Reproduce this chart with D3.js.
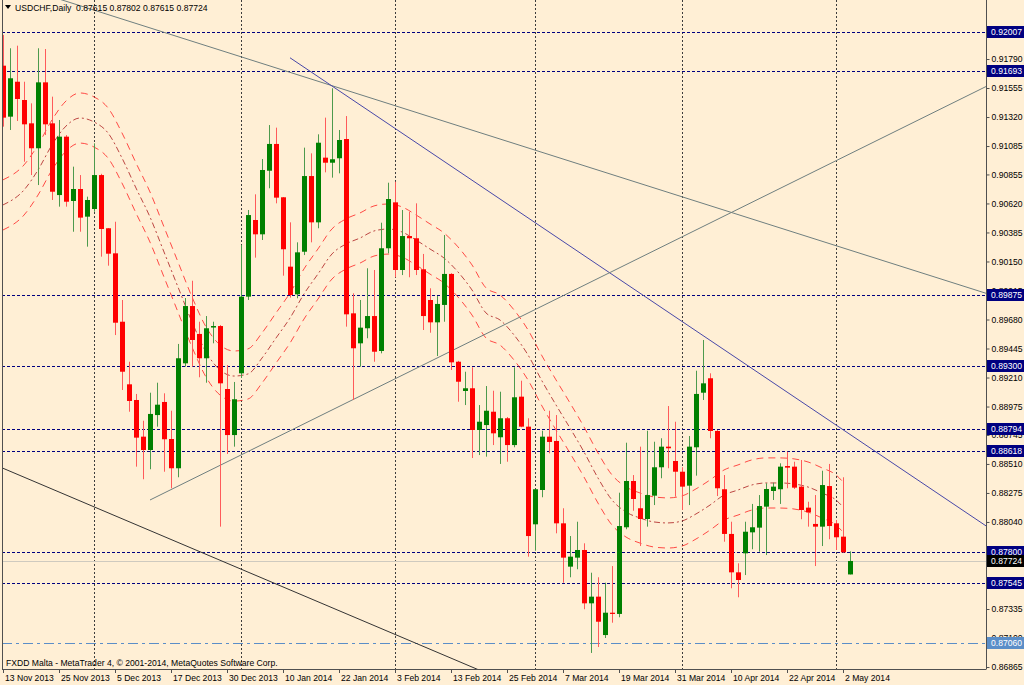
<!DOCTYPE html>
<html lang="en">
<head>
<meta charset="utf-8">
<title>USDCHF,Daily</title>
<script src="https://d3js.org/d3.v7.min.js"></script>
<style>
  body { margin: 0; background: #ffefd5; }
  svg { display: block; }
  text { font-family: "Liberation Sans", Arial, sans-serif; font-size: 8.6px; fill: #000; }
</style>
</head>
<body>
<script>
var width = 1024, height = 685;
var plot = { left: 2, right: 986, top: 0, bottom: 669 };

// daily bars, 13 Nov 2013 .. 5 May 2014
var opens = [0.91736,0.91323,0.91606,0.91458,0.91269,0.91067,0.91601,0.91269,0.90688,0.91161,
  0.90640,0.90737,0.90513,0.90575,0.90850,0.90419,0.90216,0.89662,0.89155,0.89028,
  0.88731,0.88623,0.88906,0.89012,0.88712,0.88475,0.89325,0.89789,0.89563,0.89366,
  0.89615,0.89627,0.89117,0.88744,0.89244,0.89865,0.90486,0.90370,0.90885,0.91102,
  0.90670,0.90108,0.89884,0.90229,0.90842,0.90467,0.90991,0.90950,0.90986,0.91142,
  0.89730,0.89487,0.89609,0.89708,0.89425,0.90257,0.90629,0.90081,0.90356,0.90338,
  0.90087,0.89838,0.89657,0.89798,0.90049,0.89338,0.89101,0.89123,0.88785,0.88825,
  0.88933,0.88726,0.88880,0.88663,0.89055,0.88812,0.88021,0.88299,0.88731,0.88696,
  0.88029,0.87678,0.87751,0.87813,0.87381,0.87435,0.87124,0.87305,0.87295,0.87997,
  0.88372,0.88151,0.88064,0.88253,0.88483,0.88650,0.88534,0.88447,0.88334,0.88645,
  0.89087,0.89204,0.88777,0.88305,0.87943,0.87632,0.87786,0.87956,0.87994,0.88164,
  0.88291,0.88305,0.88493,0.88488,0.88326,0.88156,0.88024,0.88002,0.88331,0.88029,
  0.87921,0.87615];
var highs = [0.91985,0.91877,0.91898,0.91606,0.91431,0.91877,0.91871,0.91485,0.91296,0.91174,
  0.90918,0.90850,0.90675,0.91107,0.90860,0.90421,0.90472,0.89838,0.89338,0.89077,
  0.88860,0.89087,0.89168,0.89082,0.88941,0.89482,0.89854,0.89994,0.89662,0.89708,
  0.89662,0.89635,0.89311,0.89174,0.90283,0.90567,0.90694,0.90980,0.91255,0.91234,
  0.90672,0.90467,0.90305,0.91072,0.91026,0.91180,0.91315,0.91553,0.91215,0.91328,
  0.89892,0.89838,0.90095,0.90081,0.90464,0.90788,0.90796,0.90567,0.90553,0.90621,
  0.90211,0.89933,0.89870,0.90364,0.90055,0.89345,0.89257,0.89293,0.88987,0.89141,
  0.89103,0.89095,0.88890,0.89293,0.89184,0.88880,0.88307,0.88779,0.88941,0.88906,
  0.88151,0.87926,0.88042,0.87867,0.87629,0.87592,0.87548,0.87683,0.88277,0.88682,
  0.88420,0.88650,0.88779,0.88690,0.88718,0.88979,0.88852,0.88483,0.88736,0.89265,
  0.89514,0.89244,0.88785,0.88420,0.88042,0.87705,0.88042,0.88186,0.88258,0.88353,
  0.88358,0.88515,0.88609,0.88528,0.88542,0.88204,0.88258,0.88455,0.88510,0.88056,
  0.88402,0.87802];
var lows = [0.91242,0.91215,0.91288,0.90958,0.90850,0.90769,0.91174,0.90648,0.90594,0.90594,
  0.90391,0.90391,0.90270,0.90553,0.90189,0.90116,0.89554,0.89109,0.88933,0.88488,
  0.88386,0.88467,0.88812,0.88447,0.88313,0.88402,0.89298,0.89298,0.89212,0.89168,
  0.89487,0.88002,0.88591,0.88650,0.89206,0.89838,0.90181,0.90324,0.90743,0.90621,
  0.90035,0.89857,0.89852,0.90202,0.90305,0.90419,0.90872,0.90829,0.90864,0.89622,
  0.89028,0.89298,0.89528,0.89338,0.89406,0.90216,0.90022,0.90040,0.90022,0.90040,
  0.89595,0.89573,0.89384,0.89662,0.89271,0.89014,0.88987,0.88558,0.88582,0.88569,
  0.88663,0.88510,0.88528,0.88645,0.88807,0.87759,0.87807,0.88240,0.88596,0.87948,
  0.87548,0.87592,0.87657,0.87333,0.86979,0.87027,0.87100,0.87224,0.87268,0.87981,
  0.88131,0.87845,0.88002,0.88177,0.88394,0.88475,0.88245,0.88137,0.88177,0.88415,
  0.89028,0.88718,0.88250,0.87880,0.87503,0.87430,0.87610,0.87819,0.87799,0.87772,
  0.88218,0.88186,0.88313,0.88307,0.88062,0.88002,0.87683,0.87845,0.87900,0.87813,
  0.87791,0.87615];
var closes = [0.91315,0.91634,0.91466,0.91261,0.91067,0.91601,0.91261,0.90715,0.91161,0.90634,
  0.90737,0.90505,0.90648,0.90850,0.90413,0.90213,0.89654,0.89257,0.89020,0.88723,
  0.88623,0.88915,0.88990,0.88710,0.88475,0.89366,0.89789,0.89514,0.89366,0.89609,
  0.89627,0.89163,0.88744,0.89034,0.89865,0.90526,0.90370,0.90891,0.91102,0.90667,
  0.90249,0.89878,0.90224,0.90842,0.90467,0.91112,0.90950,0.90978,0.91134,0.89722,
  0.89447,0.89614,0.89708,0.89419,0.90257,0.90656,0.90081,0.90356,0.90338,0.90081,
  0.89708,0.89657,0.89806,0.90049,0.89333,0.89176,0.89123,0.88785,0.88852,0.88941,
  0.88758,0.88880,0.88663,0.89050,0.88812,0.87926,0.88305,0.88731,0.88688,0.88029,
  0.87751,0.87759,0.87813,0.87381,0.87435,0.87232,0.87305,0.87295,0.88007,0.88372,
  0.88226,0.88064,0.88258,0.88483,0.88650,0.88637,0.88447,0.88326,0.88650,0.89077,
  0.89163,0.88777,0.88313,0.87943,0.87632,0.87570,0.87961,0.87997,0.88169,0.88307,
  0.88326,0.88488,0.88480,0.88318,0.88137,0.88118,0.88002,0.88339,0.88007,0.87916,
  0.87794,0.87724];

var dateLabels = ["13 Nov 2013","25 Nov 2013","5 Dec 2013","17 Dec 2013","30 Dec 2013",
  "10 Jan 2014","22 Jan 2014","3 Feb 2014","13 Feb 2014","25 Feb 2014","7 Mar 2014",
  "19 Mar 2014","31 Mar 2014","10 Apr 2014","22 Apr 2014","2 May 2014"];
var dateLabelBars = [0,8,16,24,32,40,48,56,64,72,80,88,96,104,112,120];
var monthStartBars = [13,34,56,76,97,119];

// 0.87805 sits fully under the 0.87800 tag in the reference, so it is left out
var priceTicks = [0.92025,0.91790,0.91555,0.91320,0.91085,0.90855,0.90620,0.90385,0.90150,
  0.89915,0.89680,0.89445,0.89210,0.88975,0.88745,0.88510,0.88275,0.88040,
  0.87570,0.87335,0.87100,0.86865];

// envelope lines (upper / middle / lower), read at these bars
var envBars = [0,3,5,7,9,11,13,15,17,19,21,23,25,27,29,31,33,35,37,39,41,43,45,47,49,51,53,55,
  57,59,61,63,65,67,69,71,73,75,77,79,81,83,85,87,89,91,93,95,97,99,101,103,105,107,109,111,
  113,115,117,119,120];
var envMid = [0.90608,0.90729,0.90891,0.91094,0.91247,0.91312,0.91280,0.91191,0.90988,0.90745,
  0.90510,0.90227,0.89943,0.89660,0.89417,0.89271,0.89222,0.89239,0.89368,0.89530,0.89692,
  0.89887,0.90049,0.90211,0.90292,0.90340,0.90397,0.90413,0.90389,0.90324,0.90251,0.90178,
  0.90065,0.89919,0.89733,0.89676,0.89555,0.89393,0.89182,0.88988,0.88801,0.88607,0.88396,
  0.88218,0.88121,0.88072,0.88040,0.88032,0.88048,0.88105,0.88177,0.88258,0.88299,0.88340,
  0.88356,0.88356,0.88348,0.88323,0.88275,0.88218,0.88161];
var envUpper = [0.90811,0.90932,0.91094,0.91297,0.91450,0.91515,0.91483,0.91394,0.91191,0.90948,
  0.90713,0.90430,0.90146,0.89863,0.89620,0.89474,0.89425,0.89442,0.89571,0.89733,0.89895,
  0.90090,0.90252,0.90414,0.90495,0.90543,0.90600,0.90616,0.90592,0.90527,0.90454,0.90381,
  0.90268,0.90122,0.89936,0.89879,0.89758,0.89596,0.89385,0.89191,0.89004,0.88810,0.88599,
  0.88421,0.88324,0.88275,0.88243,0.88235,0.88251,0.88308,0.88380,0.88461,0.88502,0.88543,
  0.88559,0.88559,0.88551,0.88526,0.88478,0.88421,0.88364];
var envLower = [0.90405,0.90526,0.90688,0.90891,0.91044,0.91109,0.91077,0.90988,0.90785,0.90542,
  0.90307,0.90024,0.89740,0.89457,0.89214,0.89068,0.89019,0.89036,0.89165,0.89327,0.89489,
  0.89684,0.89846,0.90008,0.90089,0.90137,0.90194,0.90210,0.90186,0.90121,0.90048,0.89975,
  0.89862,0.89716,0.89530,0.89473,0.89352,0.89190,0.88979,0.88785,0.88598,0.88404,0.88193,
  0.88015,0.87918,0.87869,0.87837,0.87829,0.87845,0.87902,0.87974,0.88055,0.88096,0.88137,
  0.88153,0.88153,0.88145,0.88120,0.88072,0.88015,0.87958];

// horizontal levels
var levelPrices = [0.92007,0.91693,0.89875,0.89300,0.88794,0.88618,0.87800,0.87545];
var bidPrice = 0.87724;
var alertPrice = 0.87060;

// trend lines: two anchor points (bar, price); ray to the right, "both" also extends left
var trendBars1 = [0, 41, 21, 0];
var trendPrices1 = [0.92420, 0.91800, 0.88218, 0.88475];
var trendBars2 = [140, 100, 140, 67];
var trendPrices2 = [0.89900, 0.89550, 0.91555, 0.86865];
var trendBoth = [true, false, false, true];
var trendColors = ["#6f7f7f", "#4848a8", "#6f7f7f", "#333333"];

var title = "USDCHF,Daily  0.87615 0.87802 0.87615 0.87724";
var copyright = "FXDD Malta - MetaTrader 4, \u00a9 2001-2014, MetaQuotes Software Corp.";

var bars = opens.map(function(o, i) {
  return { i: i, o: o, h: highs[i], l: lows[i], c: closes[i] };
});

var x = d3.scaleLinear().domain([0, 121]).range([3, 850]);
var y = d3.scaleLinear().domain([0.86849, 0.92268]).range([plot.bottom, plot.top]);

var svg = d3.select("body").append("svg")
  .attr("width", width).attr("height", height);

svg.append("rect").attr("width", width).attr("height", height).attr("fill", "#ffefd5");

svg.append("clipPath").attr("id", "clip")
  .append("rect")
  .attr("x", plot.left).attr("y", plot.top)
  .attr("width", plot.right - plot.left).attr("height", plot.bottom - plot.top);

var g = svg.append("g").attr("clip-path", "url(#clip)");

// month grid
g.selectAll(".vgrid").data(monthStartBars).enter().append("line")
  .attr("x1", function(d) { return Math.round(x(d)) + 0.5; })
  .attr("x2", function(d) { return Math.round(x(d)) + 0.5; })
  .attr("y1", plot.top).attr("y2", plot.bottom)
  .attr("stroke", "#3c3c3c").attr("stroke-dasharray", "2,2");

// levels
g.selectAll(".level").data(levelPrices).enter().append("line")
  .attr("x1", plot.left).attr("x2", plot.right)
  .attr("y1", function(d) { return Math.round(y(d)) + 0.5; })
  .attr("y2", function(d) { return Math.round(y(d)) + 0.5; })
  .attr("stroke", "#000080").attr("stroke-dasharray", "3,2");

g.append("line")
  .attr("x1", plot.left).attr("x2", plot.right)
  .attr("y1", Math.round(y(bidPrice)) + 0.5).attr("y2", Math.round(y(bidPrice)) + 0.5)
  .attr("stroke", "#cfcabf").attr("stroke-width", 1.2);

g.append("line")
  .attr("x1", plot.left).attr("x2", plot.right)
  .attr("y1", Math.round(y(alertPrice)) + 0.5).attr("y2", Math.round(y(alertPrice)) + 0.5)
  .attr("stroke", "#5b8ec8").attr("stroke-dasharray", "10,4,3,4");

// envelopes
var envLine = function(vals) {
  return d3.line()
    .x(function(d, k) { return x(envBars[k]); })
    .y(function(d) { return y(d); })
    .curve(d3.curveMonotoneX)(vals);
};
g.append("path").attr("d", envLine(envUpper)).attr("fill", "none")
  .attr("stroke", "#ff2020").attr("stroke-opacity", 0.8).attr("stroke-dasharray", "7,5");
g.append("path").attr("d", envLine(envLower)).attr("fill", "none")
  .attr("stroke", "#ff2020").attr("stroke-opacity", 0.8).attr("stroke-dasharray", "7,5");
g.append("path").attr("d", envLine(envMid)).attr("fill", "none")
  .attr("stroke", "#b02828").attr("stroke-opacity", 0.85).attr("stroke-dasharray", "6,3,2,3");

// trend lines
trendBars1.forEach(function(b1, k) {
  var x1 = x(b1), y1 = y(trendPrices1[k]);
  var x2 = x(trendBars2[k]), y2 = y(trendPrices2[k]);
  var slope = (y2 - y1) / (x2 - x1);
  var xs = trendBoth[k] ? plot.left - 50 : x1;
  var xe = plot.right;
  g.append("line")
    .attr("x1", xs).attr("y1", y1 + slope * (xs - x1))
    .attr("x2", xe).attr("y2", y1 + slope * (xe - x1))
    .attr("stroke", trendColors[k]).attr("stroke-width", 1);
});

// candles
var candle = g.selectAll(".bar").data(bars).enter().append("g");
candle.append("line")
  .attr("x1", function(d) { return Math.round(x(d.i)) + 0.5; })
  .attr("x2", function(d) { return Math.round(x(d.i)) + 0.5; })
  .attr("y1", function(d) { return y(d.h); })
  .attr("y2", function(d) { return y(d.l); })
  .attr("stroke", function(d) { return d.c >= d.o ? "#4d9a4d" : "#ff5a5a"; });
candle.append("rect")
  .attr("x", function(d) { return Math.round(x(d.i)) - 2; })
  .attr("width", 5)
  .attr("y", function(d) { return y(Math.max(d.o, d.c)); })
  .attr("height", function(d) { return Math.max(1, Math.abs(y(d.o) - y(d.c))); })
  .attr("fill", function(d) { return d.c >= d.o ? "#008000" : "#ff0000"; });

// frame
svg.append("line").attr("x1", plot.left + 0.5).attr("x2", plot.left + 0.5)
  .attr("y1", plot.top).attr("y2", plot.bottom).attr("stroke", "#505050");
svg.append("line").attr("x1", plot.left).attr("x2", plot.right)
  .attr("y1", plot.bottom + 0.5).attr("y2", plot.bottom + 0.5).attr("stroke", "#505050");

// price axis
var axis = svg.append("g")
  .attr("transform", "translate(" + (plot.right + 0.5) + ",0)")
  .call(d3.axisRight(y).tickValues(priceTicks).tickSize(3).tickPadding(2)
    .tickFormat(d3.format(".5f")));
axis.select(".domain").attr("stroke", "#505050").attr("d", "M0," + plot.top + "V" + (plot.bottom + 0.5));
axis.selectAll(".tick line").attr("stroke", "#505050");
axis.selectAll("text").attr("font-size", null).attr("font-family", null);

// price labels on the axis
var tags = [];
levelPrices.forEach(function(p) { tags.push({ p: p, fill: "#000080" }); });
tags.push({ p: bidPrice, fill: "#000000" });
tags.push({ p: alertPrice, fill: "#5b8ec8" });
var tag = svg.selectAll(".tag").data(tags).enter().append("g")
  .attr("transform", function(d) { return "translate(" + (plot.right + 1) + "," + Math.round(y(d.p)) + ")"; });
tag.append("rect").attr("x", 0).attr("y", -6).attr("width", 40).attr("height", 12)
  .attr("fill", function(d) { return d.fill; });
tag.append("text").attr("x", 4).attr("dy", "0.32em").style("fill", "#fff")
  .text(function(d) { return d3.format(".5f")(d.p); });

// time axis
var tx = svg.append("g");
tx.selectAll("line").data(dateLabelBars).enter().append("line")
  .attr("x1", function(d) { return Math.round(x(d)) + 0.5; })
  .attr("x2", function(d) { return Math.round(x(d)) + 0.5; })
  .attr("y1", plot.bottom).attr("y2", plot.bottom + 4)
  .attr("stroke", "#505050");
tx.selectAll("text").data(dateLabelBars).enter().append("text")
  .attr("x", function(d) { return Math.round(x(d)) + 2; })
  .attr("y", 681)
  .text(function(d, k) { return dateLabels[k]; });

// header and footer
svg.append("path").attr("d", "M5,5L11,5L8,9Z").attr("fill", "#000");
svg.append("text").attr("x", 15).attr("y", 11).attr("xml:space", "preserve").text(title);
svg.append("text").attr("x", 6).attr("y", 666).text(copyright);
</script>
</body>
</html>
